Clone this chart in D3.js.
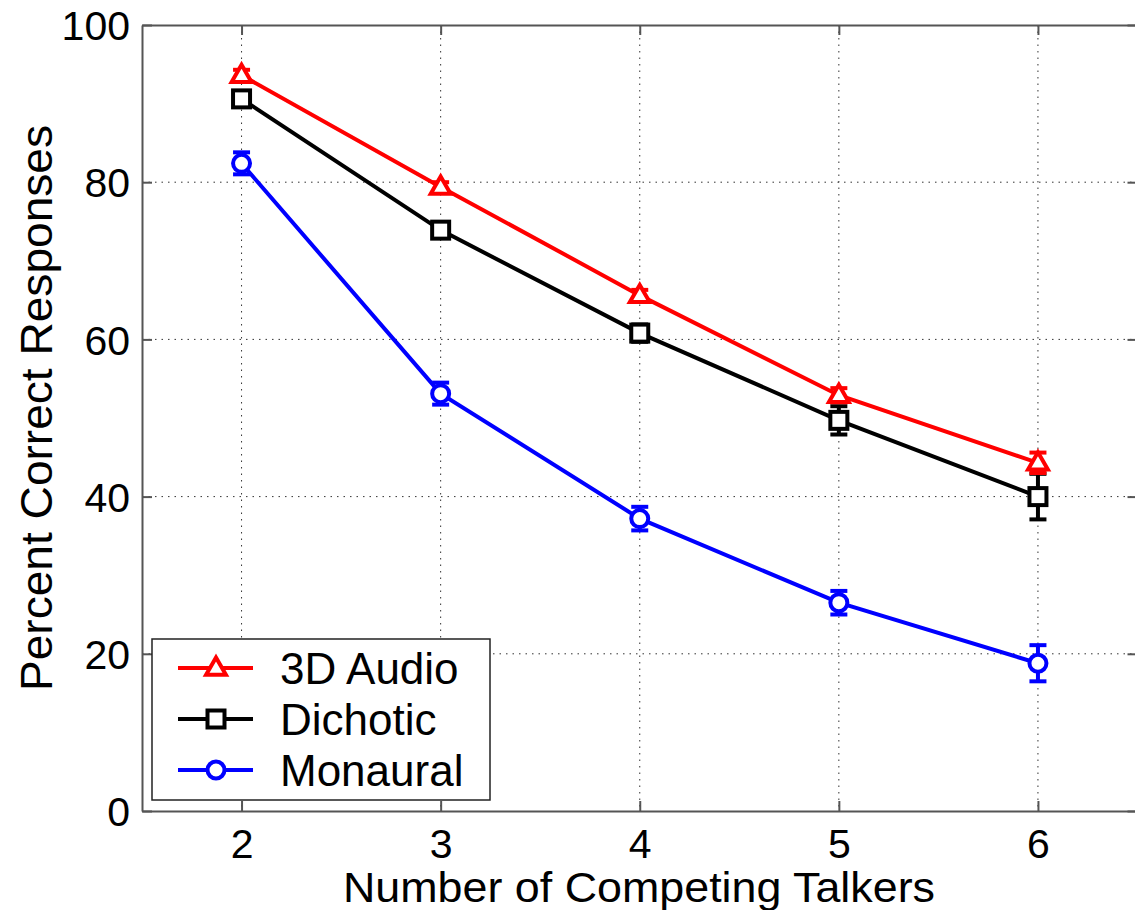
<!DOCTYPE html>
<html>
<head>
<meta charset="utf-8">
<script src="https://cdn.jsdelivr.net/npm/d3@7"></script>
<style>
  html, body { margin: 0; padding: 0; background: #fff; }
  svg { display: block; }
  text { font-family: "Liberation Sans", Arial, sans-serif; fill: #000; }
</style>
</head>
<body>
<svg id="chart" width="1135" height="910"></svg>
<script>
// Number of competing talkers (x categories)
const talkers = [2, 3, 4, 5, 6];
const xTicks = [2, 3, 4, 5, 6];
const yTicks = [0, 20, 40, 60, 80, 100];

// Mean percent correct per listening condition, with error-bar half widths
const audio3D      = [93.6, 79.4, 65.6, 52.9, 44.3];
const audio3DErr   = [0.7, 0.6, 0.7, 0.9, 1.3];
const dichotic     = [90.6, 73.9, 60.8, 49.7, 40.0];
const dichoticErr  = [0.6, 0.6, 1.1, 1.8, 2.9];
const monaural     = [82.4, 53.1, 37.2, 26.5, 18.8];
const monauralErr  = [1.4, 1.4, 1.5, 1.5, 2.3];

const seriesNames  = ["3D Audio", "Dichotic", "Monaural"];
const seriesColors = ["#ff0000", "#000000", "#0000ff"];
const seriesMarks  = ["triangle", "square", "circle"];

const series = [
  { name: seriesNames[0], values: audio3D,  errs: audio3DErr,  color: seriesColors[0], mark: seriesMarks[0] },
  { name: seriesNames[1], values: dichotic, errs: dichoticErr, color: seriesColors[1], mark: seriesMarks[1] },
  { name: seriesNames[2], values: monaural, errs: monauralErr, color: seriesColors[2], mark: seriesMarks[2] }
];

const svg = d3.select("#chart");
const plotLeft = 142, plotRight = 1137.5, plotTop = 25, plotBottom = 811;
const lineW = 4;

const x = d3.scaleLinear().domain([1.5, 6.5]).range([plotLeft, plotRight]);
const y = d3.scaleLinear().domain([0, 100]).range([plotBottom, plotTop]);

// dotted grid
const grid = svg.append("g");
grid.selectAll("line.gx").data(xTicks).join("line")
  .attr("x1", d => x(d)).attr("x2", d => x(d))
  .attr("y1", plotTop).attr("y2", plotBottom)
  .attr("stroke", "#333").attr("stroke-width", 1).attr("stroke-dasharray", "1.5,5");
grid.selectAll("line.gy").data(yTicks.slice(1, -1)).join("line")
  .attr("x1", plotLeft).attr("x2", plotRight)
  .attr("y1", d => y(d)).attr("y2", d => y(d))
  .attr("stroke", "#333").attr("stroke-width", 1).attr("stroke-dasharray", "1.5,5");

// axes: box with inward ticks
const axisColor = "#555";
const axisFont = "41px";
const xAxis = svg.append("g").attr("transform", `translate(0,${plotBottom})`)
  .call(d3.axisBottom(x).tickValues(xTicks).tickSizeInner(-10).tickSizeOuter(0).tickPadding(16).tickFormat(d3.format("d")));
const xAxisTop = svg.append("g").attr("transform", `translate(0,${plotTop})`)
  .call(d3.axisTop(x).tickValues(xTicks).tickSizeInner(-10).tickSizeOuter(0).tickFormat(""));
const yAxis = svg.append("g").attr("transform", `translate(${plotLeft},0)`)
  .call(d3.axisLeft(y).tickValues(yTicks).tickSizeInner(-10).tickSizeOuter(0).tickPadding(12).tickFormat(d3.format("d")));
const yAxisRight = svg.append("g").attr("transform", `translate(${plotRight},0)`)
  .call(d3.axisRight(y).tickValues(yTicks).tickSizeInner(-10).tickSizeOuter(0).tickFormat(""));

[xAxis, xAxisTop, yAxis, yAxisRight].forEach(g => {
  g.select(".domain").attr("stroke", axisColor).attr("stroke-width", 2);
  g.selectAll(".tick line").attr("stroke", axisColor).attr("stroke-width", 2);
  g.selectAll(".tick text").attr("font-family", "Liberation Sans, Arial, sans-serif")
    .attr("font-size", axisFont).attr("fill", "#000");
});
xAxis.selectAll(".tick text").attr("dy", "0.75em");
yAxis.selectAll(".tick text").attr("dy", "0.36em");

// axis titles
svg.append("text")
  .attr("x", 639).attr("y", 902)
  .attr("text-anchor", "middle")
  .attr("font-size", 43)
  .attr("textLength", 592).attr("lengthAdjust", "spacingAndGlyphs")
  .text("Number of Competing Talkers");

svg.append("text")
  .attr("transform", "translate(52,408) rotate(-90)")
  .attr("text-anchor", "middle")
  .attr("font-size", 45)
  .attr("textLength", 566).attr("lengthAdjust", "spacingAndGlyphs")
  .text("Percent Correct Responses");

// marker drawing helper
function drawMarker(g, type, color, cx, cy) {
  if (type === "triangle") {
    g.append("path")
      .attr("d", d3.symbol(d3.symbolTriangle, 170)())
      .attr("transform", `translate(${cx},${cy + 1})`)
      .attr("fill", "#fff").attr("stroke", color).attr("stroke-width", lineW);
  } else if (type === "square") {
    g.append("rect")
      .attr("x", cx - 8.5).attr("y", cy - 8.5).attr("width", 17).attr("height", 17)
      .attr("fill", "#fff").attr("stroke", color).attr("stroke-width", lineW);
  } else {
    g.append("circle")
      .attr("cx", cx).attr("cy", cy).attr("r", 8.5)
      .attr("fill", "#fff").attr("stroke", color).attr("stroke-width", lineW);
  }
}

const line = d3.line().x(d => x(d[0])).y(d => y(d[1]));

// draw each series: line, error bars, markers (bottom series first)
series.slice().reverse().forEach(s => {
  const g = svg.append("g");
  const pts = talkers.map((t, i) => [t, s.values[i], s.errs[i]]);
  g.append("path").datum(pts)
    .attr("d", line).attr("fill", "none")
    .attr("stroke", s.color).attr("stroke-width", lineW);
  pts.forEach(p => {
    const cx = x(p[0]);
    const y1 = y(p[1] + p[2]), y2 = y(p[1] - p[2]);
    g.append("line").attr("x1", cx).attr("x2", cx).attr("y1", y1).attr("y2", y2)
      .attr("stroke", s.color).attr("stroke-width", lineW);
    [y1, y2].forEach(yy => g.append("line")
      .attr("x1", cx - 8.5).attr("x2", cx + 8.5).attr("y1", yy).attr("y2", yy)
      .attr("stroke", s.color).attr("stroke-width", lineW));
    drawMarker(g, s.mark, s.color, cx, y(p[1]));
  });
});

// legend
const legend = svg.append("g");
legend.append("rect")
  .attr("x", 152).attr("y", 639).attr("width", 338).attr("height", 161)
  .attr("fill", "#fff").attr("stroke", "#222").attr("stroke-width", 1.5);
const rowY = [668, 719, 770];
series.forEach((s, i) => {
  const ly = rowY[i];
  legend.append("line").attr("x1", 178).attr("x2", 253).attr("y1", ly).attr("y2", ly)
    .attr("stroke", s.color).attr("stroke-width", lineW);
  drawMarker(legend, s.mark, s.color, 216, ly);
  legend.append("text").attr("x", 280).attr("y", ly).attr("dy", "0.36em")
    .attr("font-size", 44).text(s.name);
});
</script>
</body>
</html>
